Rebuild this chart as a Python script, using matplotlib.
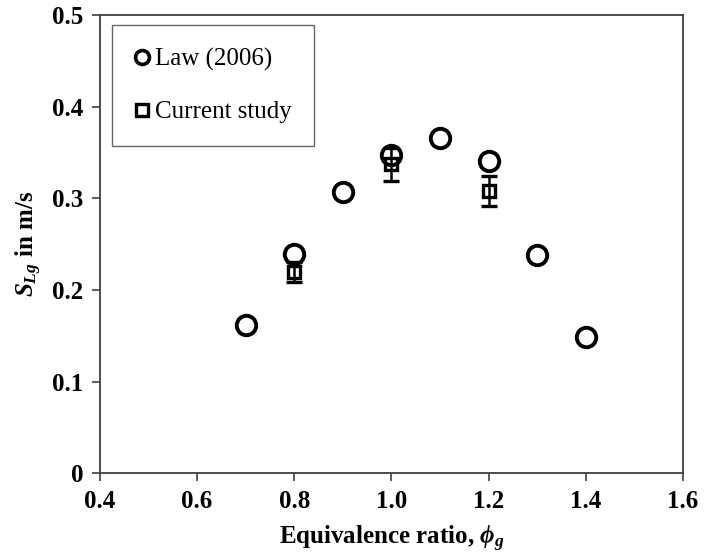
import matplotlib
matplotlib.use("Agg")
import matplotlib.pyplot as plt
from matplotlib.lines import Line2D
from matplotlib.ticker import FuncFormatter

plt.rcParams["font.family"] = ["Liberation Serif", "DejaVu Serif"]
plt.rcParams["mathtext.fontset"] = "custom"
plt.rcParams["mathtext.rm"] = "Liberation Serif:bold"
plt.rcParams["mathtext.it"] = "Liberation Serif:italic:bold"
plt.rcParams["mathtext.bf"] = "Liberation Serif:bold"

# Law (2006) reference flame speeds
phi_law = [0.7, 0.8, 0.9, 1.0, 1.1, 1.2, 1.3, 1.4]
sl_law = [0.162, 0.239, 0.307, 0.347, 0.366, 0.341, 0.238, 0.149]

# current measurements with error bars
phi_cur = [0.8, 1.0, 1.2]
sl_cur = [0.220, 0.337, 0.308]
sl_err = [0.011, 0.018, 0.016]

axis_col = "#404040"

fig = plt.figure(figsize=(7.04, 5.60), dpi=100)
ax = fig.add_axes([0.142, 0.155, 0.828, 0.818])

ax.plot(phi_law, sl_law, linestyle="none", marker="o", markersize=14,
        markerfacecolor="none", markeredgecolor="black", markeredgewidth=2.8)
ax.errorbar(phi_cur, sl_cur, yerr=sl_err, linestyle="none", marker="s",
            markersize=8, markerfacecolor="none", markeredgecolor="black",
            markeredgewidth=2.4, ecolor="black", elinewidth=1.8, capsize=6,
            capthick=1.8)

ax.set_xlim(0.4, 1.6)
ax.set_ylim(0, 0.5)
ax.set_xticks([0.4, 0.6, 0.8, 1.0, 1.2, 1.4, 1.6])
ax.set_yticks([0, 0.1, 0.2, 0.3, 0.4, 0.5])
ax.xaxis.set_major_formatter(FuncFormatter(lambda v, p: f"{v:.1f}"))
ax.yaxis.set_major_formatter(FuncFormatter(lambda v, p: "0" if abs(v) < 1e-9 else f"{v:.1f}"))

for s in ax.spines.values():
    s.set_color(axis_col)
    s.set_linewidth(1.3)
ax.tick_params(direction="out", length=6, width=1.2, color=axis_col,
               labelsize=18, pad=6)
for lab in ax.get_xticklabels() + ax.get_yticklabels():
    lab.set_fontweight("bold")

ax.set_xlabel(r"Equivalence ratio, $\phi_g$", fontsize=18, fontweight="bold", labelpad=8)
ax.set_ylabel(r"$S_{Lg}$ in m/s", fontsize=18, fontweight="bold", labelpad=6)

# legend uses plain markers only (no error bars)
handles = [
    Line2D([], [], linestyle="none", marker="o", markersize=10,
           markerfacecolor="none", markeredgecolor="black", markeredgewidth=2.6),
    Line2D([], [], linestyle="none", marker="s", markersize=8,
           markerfacecolor="none", markeredgecolor="black", markeredgewidth=2.4),
]
leg = ax.legend(handles, ["Law (2006)", "Current study"], loc="upper left",
                bbox_to_anchor=(0.021, 0.978), fontsize=18, frameon=True,
                fancybox=False, borderpad=0.9, labelspacing=1.2,
                handlelength=0.6, handletextpad=0.2, borderaxespad=0)
leg.get_frame().set_edgecolor(axis_col)
leg.get_frame().set_linewidth(1.0)

fig.savefig("out.png", dpi=100)
